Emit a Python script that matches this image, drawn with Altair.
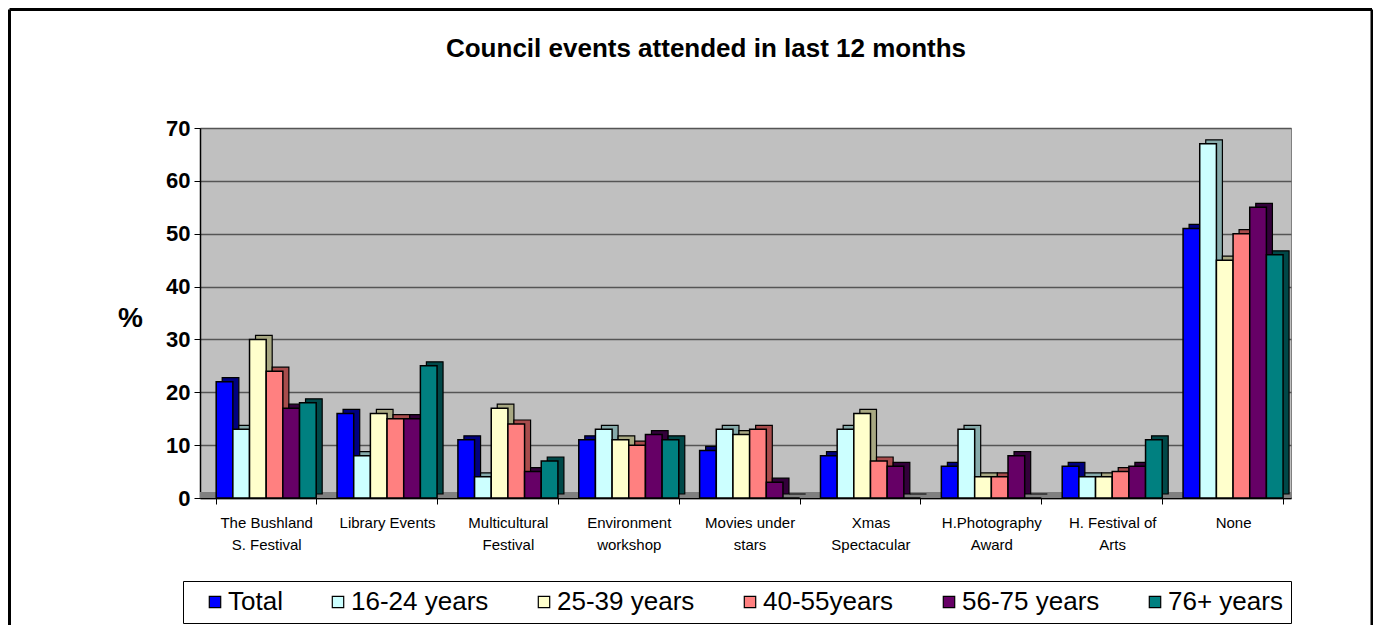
import altair as alt
import pandas as pd

# ---------------- data ----------------
title_text = "Council events attended in last 12 months"
events = [
    "The Bushland\nS. Festival",
    "Library Events",
    "Multicultural\nFestival",
    "Environment\nworkshop",
    "Movies under\nstars",
    "Xmas\nSpectacular",
    "H.Photography\nAward",
    "H. Festival of\nArts",
    "None",
]
series = ["Total", "16-24 years", "25-39 years", "40-55years", "56-75 years", "76+ years"]

total = [22, 16, 11, 11, 9, 8, 6, 6, 51]
age_16_24 = [13, 8, 4, 13, 13, 13, 13, 4, 67]
age_25_39 = [30, 16, 17, 11, 12, 16, 4, 4, 45]
age_40_55 = [24, 15, 14, 10, 13, 7, 4, 5, 50]
age_56_75 = [17, 15, 5, 12, 3, 6, 8, 6, 55]
age_76_plus = [18, 25, 7, 11, 0, 0, 0, 11, 46]

y_ticks = [0, 10, 20, 30, 40, 50, 60, 70]

front_colors = ["#0000FF", "#CCFFFF", "#FFFFCC", "#FF8080", "#660066", "#008080"]
depth_colors = ["#000080", "#86ABAB", "#A8A882", "#A84C4C", "#33003A", "#004848"]

# ---------------- table ----------------
values_by_series = [total, age_16_24, age_25_39, age_40_55, age_56_75, age_76_plus]
rows = []
for s, vals in zip(series, values_by_series):
    for e, v in zip(events, vals):
        rows.append({"event": e, "series": s, "value": v})
df = pd.DataFrame(rows)

FONT = "Liberation Sans"
W, H = 1091, 370
BAND = 100

x_enc = alt.X(
    "event:N",
    sort=events,
    scale=alt.Scale(domain=events, paddingInner=0.173, paddingOuter=0.1, align=0.67),
    axis=alt.Axis(
        title=None,
        labelAngle=0,
        labelExpr="split(datum.label, '\\n')",
        labelFontSize=15,
        labelFont=FONT,
        labelColor="black",
        labelLineHeight=22,
        labelPadding=11,
        labelBaseline="top",
        tickBand="extent",
        tickColor="black",
        tickSize=6,
        domainColor="black",
        domainWidth=1.5,
        grid=False,
    ),
)

y_enc = alt.Y(
    "value:Q",
    scale=alt.Scale(domain=[0, 70], nice=False),
    axis=alt.Axis(
        values=y_ticks,
        title="%",
        titleAngle=0,
        titleX=-70,
        titleY=190,
        titleAlign="center",
        titleBaseline="middle",
        titleFontSize=28,
        titleFontWeight="bold",
        titleFont=FONT,
        titleColor="black",
        labelFontSize=22,
        labelFontWeight="bold",
        labelFont=FONT,
        labelColor="black",
        labelPadding=4,
        tickSize=6,
        tickColor="black",
        domainColor="black",
        domainWidth=1.5,
        grid=True,
        gridColor="#555555",
        gridWidth=1.5,
    ),
)

base = alt.Chart(df)
one = pd.DataFrame({"k": [0]})

floor = alt.Chart(one).mark_rect(color="#808080").encode(
    x=alt.value(0), x2=alt.value(W), y=alt.value(H - 6), y2=alt.value(H)
)

depth = base.mark_bar(yOffset=-4, y2Offset=-4, stroke="black", strokeWidth=1.2).encode(
    x=x_enc,
    xOffset=alt.XOffset("series:N", sort=series,
                        scale=alt.Scale(domain=series, range=[6, BAND + 6], paddingInner=0, paddingOuter=0)),
    y=y_enc,
    color=alt.Color("series:N", sort=series,
                    scale=alt.Scale(domain=series, range=depth_colors), legend=None),
)

front = base.mark_bar(stroke="black", strokeWidth=1.5).encode(
    x=x_enc,
    xOffset=alt.XOffset("series:N", sort=series,
                        scale=alt.Scale(domain=series, range=[0, BAND], paddingInner=0, paddingOuter=0)),
    y=y_enc,
    color=alt.Color(
        "series:N",
        sort=series,
        scale=alt.Scale(domain=series, range=front_colors),
        legend=alt.Legend(
            title=None,
            orient="none",
            legendX=-17,
            legendY=453,
            direction="horizontal",
            columns=6,
            labelFontSize=26,
            labelFont=FONT,
            labelColor="black",
            symbolType="square",
            symbolSize=130,
            symbolStrokeColor="black",
            symbolStrokeWidth=1.2,
            strokeColor="black",
            padding=8,
            columnPadding=31,
            labelOffset=0,
            symbolOffset=11,
        ),
    ),
)

title = alt.Chart(one).mark_text(
    text=title_text, font=FONT, fontSize=26, fontWeight="bold", color="black",
    align="center", baseline="alphabetic",
).encode(x=alt.value(506), y=alt.value(-71))

frame_top = alt.Chart(one).mark_rule(color="black", strokeWidth=3).encode(
    x=alt.value(-190.5), x2=alt.value(1172), y=alt.value(-118.5)
)
frame_left = alt.Chart(one).mark_rule(color="black", strokeWidth=3).encode(
    x=alt.value(-190.5), y=alt.value(-118.5), y2=alt.value(H + 127)
)
frame_right = alt.Chart(one).mark_rule(color="black", strokeWidth=3).encode(
    x=alt.value(1172), y=alt.value(-118.5), y2=alt.value(H + 127)
)

chart = (
    alt.layer(floor, depth, front, title, frame_top, frame_left, frame_right)
    .resolve_scale(xOffset="independent", color="independent")
    .properties(
        width=W,
        height=H,
        autosize=alt.AutoSizeParams(type="none"),
        padding={"left": 192, "top": 120, "right": 82, "bottom": 127},
        background="white",
    )
    .configure_view(fill="#C0C0C0", stroke="#808080", strokeWidth=1)
)

chart.save("out.html", embed_options={"renderer": "svg", "actions": False})
